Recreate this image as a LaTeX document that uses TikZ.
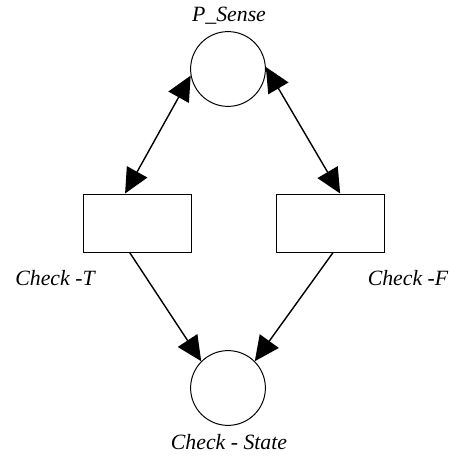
\documentclass[tikz,border=0pt]{standalone}
\usepackage{fontspec}
\setmainfont{Liberation Serif}
\usetikzlibrary{arrows.meta}
\begin{document}
\begin{tikzpicture}[
  place/.style={draw, circle, line width=0.7pt, minimum size=1.87cm, inner sep=0pt},
  trans/.style={draw, rectangle, line width=0.7pt, minimum width=2.7cm, minimum height=1.45cm, inner sep=0pt},
  arc/.style={line width=1pt, -{Triangle[length=0.62cm, width=0.58cm]}},
  barc/.style={line width=1pt, {Triangle[length=0.62cm, width=0.58cm]}-{Triangle[length=0.62cm, width=0.58cm]}},
  tag/.style={font=\fontsize{15.5}{18}\selectfont\itshape, inner sep=0pt}]
\useasboundingbox (0,0) rectangle (11.275,11.4);
% places and transitions
\node[place] (psense) at (5.7,9.675) {};
\node[place] (cstate) at (5.7,1.7) {};
\node[trans] (checkT) at (3.425,5.825) {};
\node[trans] (checkF) at (8.25,5.825) {};
% names
\node[tag] (lpsense) at (5.725,11.0) {P\_Sense};
\node[tag] (lcheckT) at (1.375,4.45) {Check -T};
\node[tag] (lcheckF) at (10.2,4.45) {Check -F};
\node[tag] (lcstate) at (5.725,0.35) {Check - State};
% arcs
\draw [barc] (psense.190) -- (checkT.112);
\draw [barc] (psense.3) -- (checkF.71);
\draw [arc] (checkT.256) -- (cstate.135);
\draw [arc] (checkF.276) -- (cstate.45);
\end{tikzpicture}
\end{document}
